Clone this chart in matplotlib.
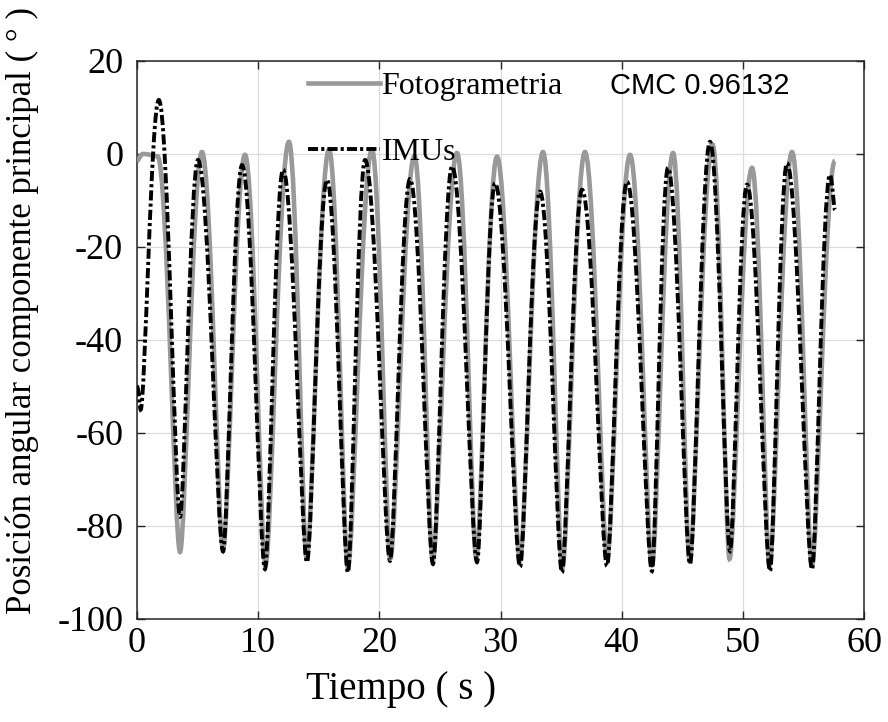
import matplotlib
matplotlib.use("Agg")
import matplotlib.pyplot as plt
from matplotlib.path import Path
from matplotlib.patches import PathPatch
from matplotlib.lines import Line2D

# Turning points of each signal: time (s) and angle (deg)
foto_t = [0.0, 0.5, 1.7, 3.55, 5.36, 7.1, 8.91, 10.6, 12.54, 14.0, 15.85, 17.4,
          19.39, 20.9, 22.9, 24.4, 26.41, 28.0, 29.71, 31.6, 33.51, 35.1, 36.97,
          38.8, 40.69, 42.5, 44.24, 45.6, 47.5, 48.9, 50.76, 52.2, 54.06, 55.7, 57.6]
foto_v = [-1.5, 0.0, -0.5, -85.6, 0.4, -85.0, -0.2, -88.5, 2.6, -87.0, 0.9, -89.0,
          0.9, -87.0, -0.5, -87.5, 0.2, -87.0, -0.6, -87.5, 0.4, -89.0, 0.4,
          -87.0, -0.2, -88.5, 0.2, -87.5, 2.0, -87.1, -3.0, -88.5, 0.4, -88.5, -1.5]

imu_t = [0.0, 0.3, 1.8, 3.55, 5.03, 7.1, 8.67, 10.56, 12.05, 14.03, 15.68, 17.41,
         18.82, 20.88, 22.53, 24.43, 26.0, 28.06, 29.55, 31.61, 33.26, 35.07, 36.73,
         38.79, 40.44, 42.5, 43.82, 45.64, 47.29, 48.94, 50.34, 52.24, 53.64, 55.71,
         57.19, 57.6]
imu_v = [-50.0, -55.0, 11.6, -78.0, -1.3, -85.5, -2.4, -89.3, -3.4, -87.8, -5.6, -90.0,
         -1.3, -87.5, -5.4, -88.2, -2.7, -87.8, -6.3, -88.8, -8.1, -90.0, -7.7,
         -88.6, -6.0, -89.7, -3.0, -88.2, 2.6, -85.4, -6.6, -89.7, -2.0, -89.3,
         -4.5, -12.0]

x_ticks = [0, 10, 20, 30, 40, 50, 60]
y_ticks = [-100, -80, -60, -40, -20, 0, 20]

cmc_text = "CMC 0.96132"

SERIF = "Liberation Serif"
SANS = "Liberation Sans"


def smooth_path(t, v, peak_hold=0.42, trough_hold=0.24):
    """Cubic Bezier path through the turning points with flat tangents at each one."""
    verts = [(t[0], v[0])]
    codes = [Path.MOVETO]
    for i in range(len(t) - 1):
        dt = t[i + 1] - t[i]
        h0 = peak_hold if v[i] >= v[i + 1] else trough_hold
        h1 = peak_hold if v[i + 1] >= v[i] else trough_hold
        verts += [(t[i] + h0 * dt, v[i]), (t[i + 1] - h1 * dt, v[i + 1]), (t[i + 1], v[i + 1])]
        codes += [Path.CURVE4] * 3
    return Path(verts, codes)


fig = plt.figure(figsize=(8.88, 7.22), dpi=100)
ax = fig.add_axes([0.1543, 0.1427, 0.8187, 0.7729])

foto_style = dict(color="#999999", lw=3.3, ls="-")
imu_style = dict(color="black", lw=2.8, ls=(0, (2.6, 0.8, 0.8, 0.8)))

ax.add_patch(PathPatch(smooth_path(foto_t, foto_v), fill=False, edgecolor=foto_style["color"],
                       lw=foto_style["lw"], linestyle=foto_style["ls"], zorder=3))
ax.add_patch(PathPatch(smooth_path(imu_t, imu_v), fill=False, edgecolor=imu_style["color"],
                       lw=imu_style["lw"], linestyle=imu_style["ls"], zorder=4))

ax.set_xlim(0, 60)
ax.set_ylim(-100, 20)
ax.set_xticks(x_ticks)
ax.set_yticks(y_ticks)
ax.set_xticklabels([str(v) for v in x_ticks], family=SERIF, fontsize=26)
ax.set_yticklabels([str(v) for v in y_ticks], family=SERIF, fontsize=26)
ax.tick_params(direction="in", length=6, width=1.0, color="#262626",
               top=True, right=True)
ax.tick_params(axis="x", pad=6)
ax.tick_params(axis="y", pad=10)
ax.grid(True, color="#dcdcdc", lw=0.9)
ax.set_axisbelow(True)
for sp in ax.spines.values():
    sp.set_color("#262626")
    sp.set_linewidth(1.1)

handles = [Line2D([], [], **foto_style), Line2D([], [], **imu_style)]
ax.legend(handles, ["Fotogrametria", "IMUs"], loc="upper left",
          bbox_to_anchor=(308 / 888, 1 - 72 / 722), bbox_transform=fig.transFigure,
          frameon=False, borderpad=0, borderaxespad=0, handlelength=2.25,
          handletextpad=0.05, labelspacing=1.15,
          prop={"family": SERIF, "size": 23})

ax.text(39.0, 14.6, cmc_text, family=SANS, fontsize=21, ha="left", va="center")

fig.text(22 / 888, 1 - 614 / 722, "Posición angular componente principal ( ° )",
         rotation=90, ha="center", va="bottom", family=SERIF, fontsize=25)
fig.text(401 / 888, 1 - 690 / 722, "Tiempo ( s )", ha="center", va="center",
         family=SERIF, fontsize=28)

fig.savefig("out.png", dpi=100)
